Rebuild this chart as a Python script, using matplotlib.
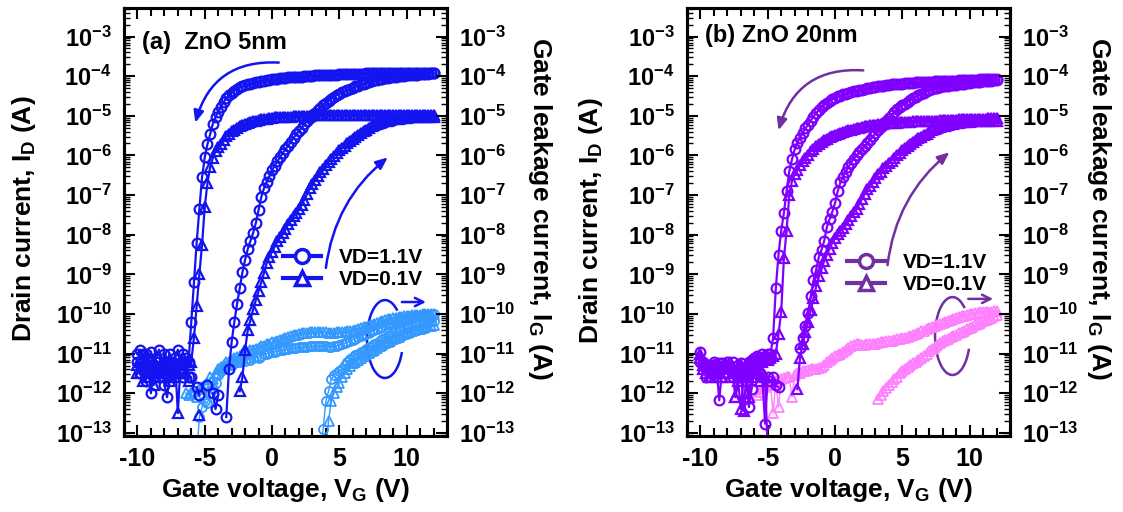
import numpy as np
import matplotlib
matplotlib.use("Agg")
import matplotlib.pyplot as plt
from matplotlib.lines import Line2D
from matplotlib.patches import Arc
from matplotlib.ticker import (LogLocator, FixedLocator, FuncFormatter, MultipleLocator,
                               NullFormatter)

nan = float("nan")

# --- gate-voltage sweep grid: -10 V .. 12 V, 0.2 V step (111 points) ---
VG_START, VG_STOP, VG_STEP = -10.0, 12.0, 0.2
VG = np.round(np.arange(VG_START, VG_STOP + VG_STEP / 2, VG_STEP), 1)

# all currents below are log10(I / A), one value per VG point (nan = not shown)

# ---------------- (a) ZnO 5nm ----------------
# forward sweep, VD = 1.1 V (circles)
A_ID11_FWD = [
    -11.2, -11.5, -11.0, -11.7, -11.3, -12.0, -11.4, -11.2, -11.6, -11.3,
    -11.8, -12.1, -11.5, -11.2, -11.4, -11.3, -11.5, -11.6, -11.2, -11.6,
    -11.6, nan, -11.85, -12.05, nan, nan, -11.8, nan, -12.0, -12.4,
    -12.05, nan, nan, -12.6,
    -11.4, -10.7, -10.2, -9.75, -9.35,
    -8.95, -8.63, -8.36, -8.15, -7.95,
    -7.7, -7.38, -7.05, -6.83, -6.67,
    -6.53, -6.37, -6.26, -6.15, -6.04,
    -5.94, -5.84, -5.75, -5.66, -5.56,
    -5.46, -5.38, -5.30, -5.21, -5.13,
    -5.05, -4.99, -4.93, -4.86, -4.80,
    -4.73, -4.67, -4.62, -4.57, -4.52,
    -4.48, -4.44, -4.41, -4.38, -4.35,
    -4.32, -4.29, -4.26, -4.24, -4.21,
    -4.19, -4.17, -4.14, -4.12, -4.10,
    -4.09, -4.07, -4.06, -4.05, -4.04,
    -4.03, -4.02, -4.01, -4.00, -3.99,
    -3.99, -3.98, -3.97, -3.97, -3.96,
    -3.96, -3.95, -3.95, -3.94, -3.94,
    -3.93, -3.93,
]
# forward sweep, VD = 0.1 V (triangles)
A_ID01_FWD = [
    -11.5, -11.2, -11.7, -11.3, -11.6, -11.4, -11.8, -11.3, -11.5, -11.6,
    -11.2, -11.4, -11.7, -11.3, -11.6, -11.5, -11.4, -11.3, -11.5, -11.7,
    nan, nan, nan, -12.55, nan, nan, nan, nan, nan, nan,
    nan, nan, nan, nan, nan, nan, nan, nan,
    -11.95, -11.6, -10.9, -10.4, -10.15,
    -9.88, -9.65, -9.42, -9.2, -8.97,
    -8.72, -8.56, -8.43, -8.30, -8.17,
    -8.06, -7.96, -7.86, -7.74, -7.63,
    -7.54, -7.45, -7.35, -7.24, -7.12,
    -6.98, -6.83, -6.71, -6.61, -6.52,
    -6.43, -6.34, -6.25, -6.16, -6.08,
    -6.01, -5.94, -5.87, -5.81, -5.75,
    -5.69, -5.63, -5.58, -5.53, -5.48,
    -5.43, -5.39, -5.35, -5.31, -5.27,
    -5.23, -5.20, -5.18, -5.16, -5.14,
    -5.12, -5.10, -5.09, -5.08, -5.07,
    -5.06, -5.05, -5.05, -5.04, -5.04,
    -5.03, -5.03, -5.03, -5.03, -5.02,
    -5.02, -5.02, -5.02,
]
# reverse sweep, VD = 1.1 V (circles)
A_ID11_REV = [
    -11.0, -10.9, -11.3, -11.0, -11.2, -10.95, -11.3, -11.1, -10.9, -11.4,
    -11.0, -11.2, -11.0, -11.3, -11.1, -10.9, -11.2, -11.0, -11.1,
    -11.2, -10.2, -9.2, -8.2, -7.35,
    -6.55, -6.05, -5.72, -5.47, -5.2,
    -5.03, -4.9, -4.78, -4.66, -4.55,
    -4.48, -4.42, -4.37, -4.32, -4.28,
    -4.26, -4.23, -4.21, -4.19, -4.17,
    -4.15, -4.14, -4.13, -4.11, -4.10,
    -4.09, -4.08, -4.07, -4.06, -4.05,
    -4.05, -4.04, -4.03, -4.03, -4.02,
    -4.02, -4.01, -4.01, -4.00, -4.00,
    -3.99, -3.99, -3.98, -3.98, -3.98,
    -3.97, -3.97, -3.97, -3.96, -3.96,
    -3.96, -3.95, -3.95, -3.95, -3.95,
    -3.94, -3.94, -3.94, -3.94, -3.94,
    -3.94, -3.93, -3.93, -3.93, -3.93,
    -3.93, -3.93, -3.93, -3.93, -3.93, -3.93, -3.93, -3.93, -3.93, -3.93, -3.93,
    -3.93, -3.93, -3.93, -3.93, -3.93, -3.93, -3.93, -3.93, -3.93, -3.93, -3.93,
]
# reverse sweep, VD = 0.1 V (triangles)
A_ID01_REV = [
    -11.3, -11.5, -11.2, -11.6, -11.3, -11.5, -11.2, -11.6, -11.4, -11.2,
    -11.5, -11.3, -11.6, -11.4, -11.2, -12.5, -11.3, -11.4, -11.2, -11.3,
    -11.2, -10.6, -9.8, -9.0, -8.25,
    -7.3, -6.7, -6.3, -6.06, -5.9,
    -5.8, -5.7, -5.6, -5.52, -5.45,
    -5.39, -5.35, -5.31, -5.27, -5.24,
    -5.21, -5.19, -5.16, -5.14, -5.12,
    -5.11, -5.09, -5.08, -5.07, -5.06,
    -5.05, -5.04, -5.04, -5.03, -5.03,
    -5.02, -5.02, -5.02, -5.01, -5.01,
    -5.01, -5.00, -5.00, -5.00, -5.00,
] + [-4.99] * 20 + [-4.98] * 26
# gate leakage, forward sweep (light circles / triangles)
A_IG11_FWD = [nan] * 22 + [
    -13.6, -12.6, -12.35, -12.2, -12.25,
    -12.0, -11.9, -11.75, -11.55, -11.45,
    -11.4, -11.35, -11.3, -11.28, -11.25,
    -11.22, -11.2, -11.15, -11.18, -11.12,
    -11.15, -11.1, -11.08, -11.1, -11.05,
    -11.02,
    -11.0, -10.98, -10.96, -10.95, -10.93,
    -10.92, -10.9, -10.89, -10.88, -10.87,
    -10.86, -10.85, -10.84, -10.84, -10.83,
    -10.83, -10.82, -10.82, -10.82, -10.81,
    -10.81, -10.82, -10.82, -10.83, -10.83,
    -10.82, -10.8, -10.78, -10.76, -10.74,
    -10.71, -10.68, -10.65, -10.62, -10.59,
    -10.56, -10.53, -10.5, -10.47, -10.44,
    -10.41, -10.38, -10.35, -10.32, -10.29,
    -10.26, -10.23, -10.2, -10.18, -10.16,
    -10.14, -10.12, -10.1, -10.09, -10.08,
    -10.07, -10.06, -10.05, -10.04, -10.03,
    -10.02, -10.01, -10.0,
]
A_IG01_FWD = [nan] * 18 + [
    -12.0, -12.05, -12.0, -11.95, -12.1,
    -11.9, -11.85, -11.8, -11.75, -11.6,
    -11.65, -11.5, -11.4, -11.35, -11.3,
    -11.22, -11.2, -11.15, -11.1, -11.08,
    -11.05, -11.0, -10.98, -10.95, -10.92,
    -10.9, -10.88, -10.85, -10.82, -10.8,
    -10.77, -10.75, -10.72, -10.7, -10.67,
    -10.65, -10.62, -10.6, -10.58, -10.56,
    -10.54, -10.52, -10.5, -10.49, -10.48,
    -10.47, -10.46, -10.46, -10.45, -10.45,
    -10.45, -10.46, -10.46, -10.47, -10.47,
    -10.47, -10.46, -10.46, -10.45, -10.45,
    -10.44, -10.43, -10.42, -10.4, -10.38,
    -10.36, -10.34, -10.32, -10.3, -10.27,
    -10.25, -10.22, -10.2, -10.18, -10.16,
    -10.14, -10.12, -10.1, -10.09, -10.08,
    -10.07, -10.06, -10.05, -10.04, -10.03,
    -10.03, -10.02, -10.02, -10.01, -10.01,
    -10.0, -10.0, -9.99,
]
# gate leakage, reverse sweep
A_IG11_REV = [nan] * 68 + [
    -13.5, -12.9, -12.2, -11.95, -11.65,
    -11.55, -11.5, -11.45, -11.38, -11.28,
    -11.2, -11.13, -11.08, -11.04, -11.0,
    -10.97, -10.93, -10.88, -10.84, -10.8,
    -10.77, -10.73, -10.68, -10.64, -10.6,
    -10.56, -10.52, -10.49, -10.46, -10.43,
    -10.41, -10.38, -10.36, -10.33, -10.31,
    -10.29, -10.27, -10.25, -10.23, -10.21,
    -10.2, -10.18, -10.17,
]
A_IG01_REV = [nan] * 70 + [
    -13.4, -12.7, -12.2, -12.0, -11.85,
    -11.75, -11.6, -11.5, -11.4, -11.32,
    -11.25, -11.2, -11.15, -11.1, -11.06,
    -11.02, -10.98, -10.94, -10.9, -10.86,
    -10.82, -10.78, -10.74, -10.7, -10.67,
    -10.63, -10.6, -10.57, -10.54, -10.51,
    -10.48, -10.46, -10.43, -10.41, -10.39,
    -10.37, -10.35, -10.33, -10.31, -10.3,
    -10.28,
]

# ---------------- (b) ZnO 20nm ----------------
B_ID11_FWD = [
    -11.2, -11.3, -11.6, -11.4, -11.5, -11.3, -11.4, -12.18, -11.4, -11.3,
    -11.5, -11.4, -11.6, -11.5, -11.4, -11.6, -11.5, -11.7, -12.35, -11.9,
    -11.4, -11.3, -11.5, -11.6, -12.77, -11.6, -11.7, -11.6, -11.8, -11.85,
    nan, nan, nan, nan, nan, nan,
    nan, -10.85, -10.6, -10.3, -9.98,
    -9.55, -9.15, -8.88, -8.56, -8.38,
    -8.15, -7.8, -7.6, -7.42, -7.2,
    -6.9, -6.68, -6.54, -6.41, -6.29,
    -6.18, -6.08, -6.0, -5.92, -5.84,
    -5.77, -5.69, -5.6, -5.52, -5.44,
    -5.37, -5.29, -5.22, -5.14, -5.06,
    -4.98, -4.9, -4.84, -4.79, -4.74,
    -4.69, -4.64, -4.6, -4.56, -4.52,
    -4.48, -4.45, -4.42, -4.38, -4.35,
    -4.33, -4.31, -4.29, -4.27, -4.26,
    -4.25, -4.24, -4.23, -4.22, -4.22,
    -4.21, -4.2, -4.19, -4.18, -4.17,
    -4.16, -4.15, -4.15, -4.14, -4.13,
    -4.12, -4.12, -4.11, -4.1, -4.1,
]
B_ID01_FWD = [
    -11.0, -11.4, -11.3, -11.6, -11.5, -11.3, -11.6, -11.4, -11.6, -11.5,
    -11.3, -11.6, -11.4, -12.1, -11.7, -12.4, -11.6, -11.5, -12.1, -11.6,
    -11.4, -11.3, -11.7, -11.5, -11.6, -13.5, nan, nan, nan, nan,
    nan, nan, nan, nan, nan, nan,
    -11.9, -11.1, -10.75, -10.45, -10.2,
    -9.9, -9.6, -9.3, -9.05, -8.85,
    -8.66, -8.5, -8.35, -8.2, -8.08,
    -7.98, -7.9, -7.82, -7.73, -7.63,
    -7.53, -7.43, -7.34, -7.22, -7.1,
    -6.97, -6.85, -6.76, -6.68, -6.57,
    -6.48, -6.41, -6.33, -6.26, -6.2,
    -6.13, -6.07, -6.0, -5.93, -5.87,
    -5.82, -5.77, -5.72, -5.67, -5.62,
    -5.57, -5.53, -5.49, -5.45, -5.4,
    -5.37, -5.34, -5.31, -5.29, -5.27,
    -5.25, -5.23, -5.21, -5.2, -5.18,
    -5.17, -5.16, -5.16, -5.15, -5.15,
    -5.14, -5.14, -5.14, -5.13, -5.13,
    -5.13, -5.12, -5.12, -5.12, -5.12,
]
B_ID11_REV = [
    -10.95, -11.2, -11.4, -11.3, -11.35, -11.2, -11.3, -11.25, -11.25, -11.3,
    -11.2, -11.4, -11.2, -11.5, -11.3, -11.25, -11.4, -11.5, -11.2, -11.15,
    -11.1, -11.05, -11.1, -11.0, -11.05, -11.0,
    -11.0, -10.6, -9.35, -8.5, -7.9,
    -7.45, -6.9, -6.4, -6.1, -5.85,
    -5.68, -5.55, -5.43, -5.32, -5.22,
    -5.12, -5.02, -4.93, -4.85, -4.78,
    -4.72, -4.67, -4.62, -4.58, -4.54,
    -4.51, -4.49, -4.46, -4.44, -4.42,
    -4.4, -4.38, -4.37, -4.35, -4.34,
    -4.32, -4.31, -4.3, -4.28, -4.27,
    -4.26, -4.25, -4.24, -4.23, -4.22,
    -4.21, -4.21, -4.2, -4.19, -4.19,
    -4.18, -4.18, -4.17, -4.17, -4.16,
    -4.16, -4.16, -4.15, -4.15, -4.14,
    -4.14, -4.13, -4.13, -4.13, -4.12,
    -4.12, -4.12, -4.11, -4.11, -4.11,
    -4.1, -4.1, -4.1, -4.1, -4.09,
    -4.09, -4.09, -4.09, -4.08, -4.08,
    -4.08, -4.08, -4.08, -4.08, -4.08,
]
B_ID01_REV = [
    -11.1, -11.3, -11.5, -11.4, -11.6, -11.3, -11.5, -11.4, -11.6, -11.3,
    -11.5, -11.2, -11.4, -12.1, -11.6, -11.3, -12.45, -11.6, -11.3, -11.2,
    -11.3, -11.2, -11.4, -11.2, -11.1, -11.15, -11.1, -11.05,
    -11.0, -10.5, -9.95, -8.6, -7.9,
    -7.0, -6.65, -6.48, -6.36, -6.25,
    -6.15, -6.07, -5.98, -5.9, -5.83,
    -5.77, -5.71, -5.66, -5.62, -5.58,
    -5.54, -5.51, -5.48, -5.45, -5.43,
    -5.41, -5.39, -5.37, -5.35, -5.33,
    -5.31, -5.3, -5.28, -5.27, -5.25,
    -5.24, -5.23, -5.22, -5.21, -5.2,
    -5.2, -5.19, -5.18, -5.18, -5.17,
    -5.17, -5.16, -5.16, -5.15, -5.15,
    -5.15, -5.14, -5.14, -5.14, -5.14,
    -5.13, -5.13, -5.13, -5.12, -5.12,
    -5.12, -5.11, -5.11, -5.11, -5.1,
    -5.1, -5.1, -5.1, -5.09, -5.09,
    -5.09, -5.08, -5.08, -5.08, -5.08,
    -5.07, -5.07, -5.07, -5.07, -5.06,
    -5.06, -5.06, -5.06,
]
B_IG_FWD = [nan] * 21 + [
    -12.05, -11.98, -11.9, -11.85, -11.8,
    -11.78, -12.5, -11.7, -12.35, -11.65,
    -11.62, -11.6, -11.6, -12.1, -11.55,
    -11.5, -11.48, -11.45, -11.43, -11.42,
    -11.4, -11.39, -11.38, -11.36, -11.35,
    -11.3, -11.22, -11.15, -11.1, -11.06,
    -11.03, -11.0, -10.95, -10.9, -10.86,
    -10.82, -10.79, -10.77, -10.77, -10.78,
    -10.78, -10.77, -10.77, -10.76, -10.75,
    -10.73, -10.72, -10.7, -10.69, -10.68,
    -10.67, -10.66, -10.64, -10.63, -10.61,
    -10.6, -10.58, -10.56, -10.53, -10.5,
    -10.47, -10.44, -10.42, -10.39, -10.36,
    -10.33, -10.31, -10.28, -10.26, -10.23,
    -10.2, -10.18, -10.15, -10.13, -10.1,
    -10.08, -10.06, -10.04, -10.02, -10.0,
    -9.99, -9.98, -9.97, -9.96, -9.95,
    -9.95, -9.94, -9.94, -9.93, -9.93,
]
B_IG_REV = [nan] * 66 + [
    -12.15, -12.05, -11.95, -11.87, -11.79,
    -11.72, -11.65, -11.58, -11.5, -11.44,
    -11.4, -11.35, -11.3, -11.25, -11.2,
    -11.15, -11.1, -11.05, -11.0, -10.94,
    -10.89, -10.84, -10.79, -10.74, -10.69,
    -10.66, -10.62, -10.59, -10.56, -10.52,
    -10.49, -10.46, -10.42, -10.39, -10.36,
    -10.32, -10.29, -10.25, -10.22, -10.19,
    -10.16, -10.13, -10.09, -10.06, -10.02,
]

LEGEND_LABELS = ["VD=1.1V", "VD=0.1V"]
YTICK_EXP = list(range(-13, -2))  # labelled decades 10^-13 .. 10^-3

# colours
A_ID_COL, A_IG_COL, A_NOTE_COL = "#1414f0", "#3399ff", "#1414f0"
B_ID_COL, B_IG_COL, B_NOTE_COL = "#8000ff", "#ff80ff", "#7030a0"

plt.rcParams["font.family"] = ["Liberation Sans", "DejaVu Sans"]
plt.rcParams["font.weight"] = "bold"
plt.rcParams["axes.unicode_minus"] = False
plt.rcParams["mathtext.fontset"] = "custom"
plt.rcParams["mathtext.rm"] = "Liberation Sans:bold"
plt.rcParams["mathtext.bf"] = "Liberation Sans:bold"
plt.rcParams["mathtext.it"] = "Liberation Sans:bold"
plt.rcParams["mathtext.default"] = "bf"

YMIN, YMAX = 10 ** -13.08, 10 ** -2.28

fig = plt.figure(figsize=(11.23, 5.12), dpi=100)


def log_curve(vals):
    vals = np.asarray(vals, dtype=float)
    assert len(vals) == len(VG), len(vals)
    return 10.0 ** vals


def style_axes(ax, ax2):
    fmt = FuncFormatter(lambda v, p: r"$10^{%d}$" % int(round(np.log10(v))))
    for a in (ax, ax2):
        a.set_yscale("log")
        a.set_ylim(YMIN, YMAX)
        a.yaxis.set_major_locator(FixedLocator([10.0 ** e for e in YTICK_EXP]))
        a.yaxis.set_minor_locator(LogLocator(base=10, subs=np.arange(2, 10) * 1.0, numticks=20))
        a.yaxis.set_major_formatter(fmt)
        a.yaxis.set_minor_formatter(NullFormatter())
        a.tick_params(axis="y", which="major", direction="in", length=8, width=1.5,
                      labelsize=17, pad=9)
        a.tick_params(axis="y", which="minor", direction="in", length=4, width=1.0)
        for s in a.spines.values():
            s.set_linewidth(2.2)
    ax.set_xlim(-11, 13)
    ax.xaxis.set_major_locator(MultipleLocator(5))
    ax.xaxis.set_minor_locator(MultipleLocator(1))
    ax.tick_params(axis="x", which="both", direction="in", top=True, width=1.5)
    ax.tick_params(axis="x", which="major", length=8, labelsize=18, pad=8)
    ax.tick_params(axis="x", which="minor", length=6)


def draw_panel(left, tag, tag_xy, id_curves, ig_curves, col_id, col_ig, col_note,
               leg_xy, arrow_top, arrow_bot, loop_xy, loop_arrow, xlab_x, ylab_l, ylab_r):
    ax = fig.add_axes([left, 0.1484, 0.2876, 0.836])
    ax2 = ax.twinx()

    for vals, m in ig_curves:
        ax.plot(VG, log_curve(vals), marker=m, ms=6.5, mfc="none", mec=col_ig, mew=1.3,
                color=col_ig, lw=1.0)
    for vals, m in id_curves:
        ax.plot(VG, log_curve(vals), marker=m, ms=7, mfc="none", mec=col_id, mew=1.6,
                color=col_id, lw=1.6)

    style_axes(ax, ax2)

    ax.text(tag_xy[0], tag_xy[1], tag, transform=ax.transAxes, fontsize=17,
            fontweight="bold", va="center", ha="left")

    handles = [Line2D([], [], color=col_note, lw=3, marker="o", ms=10, mfc="white", mew=2.5),
               Line2D([], [], color=col_note, lw=3, marker="^", ms=10, mfc="white", mew=2.5)]
    ax.legend(handles, LEGEND_LABELS, loc="center left", bbox_to_anchor=leg_xy, frameon=False,
              fontsize=15, handlelength=1.85, handletextpad=0.85, borderpad=0,
              borderaxespad=0, labelspacing=0.15)

    for (start, tip), rad in ((arrow_top, 0.4), (arrow_bot, -0.2)):
        ax.annotate("", xy=tip, xytext=start,
                    arrowprops=dict(arrowstyle="-|>,head_length=0.7,head_width=0.3",
                                    color=col_note, lw=1.8, shrinkA=0, shrinkB=0,
                                    connectionstyle="arc3,rad=%g" % rad))
    ax.add_patch(Arc(loop_xy[:2], loop_xy[2], loop_xy[3], theta1=60, theta2=330,
                     transform=ax.transAxes, color=col_note, lw=1.8))
    ax.annotate("", xy=loop_arrow[1], xytext=loop_arrow[0],
                arrowprops=dict(arrowstyle="->,head_length=0.6,head_width=0.3",
                                color=col_note, lw=1.8, shrinkA=0, shrinkB=0))

    fig.text(xlab_x, 1 - 490 / 512, "Gate voltage, $V_G$ (V)", ha="center", va="center",
             fontsize=19)
    fig.text(ylab_l[0], ylab_l[1], "Drain current, $I_D$ (A)", rotation=90, ha="center",
             va="center", fontsize=19)
    fig.text(ylab_r[0], ylab_r[1], "Gate leakage current, $I_G$ (A)", rotation=270,
             ha="center", va="center", fontsize=19)
    for t in ax.get_yticklabels() + ax2.get_yticklabels():
        t.set_verticalalignment("center_baseline")
    return ax


draw_panel(
    124 / 1123, "(a)  ZnO 5nm", (0.055, 0.92),
    [(A_ID11_FWD, "o"), (A_ID11_REV, "o"), (A_ID01_FWD, "^"), (A_ID01_REV, "^")],
    [(A_IG11_FWD, "o"), (A_IG01_FWD, "^"), (A_IG11_REV, "o"), (A_IG01_REV, "^")],
    A_ID_COL, A_IG_COL, A_NOTE_COL, (0.492, 0.391),
    ((0.5, 2.2e-4), (-5.7, 6.7e-6)), ((4.0, 1.45e-9), (8.6, 8.9e-7)),
    (0.808, 0.2266, 0.1115, 0.182), ((9.65, 2.0e-10), (11.44, 2.0e-10)),
    286 / 1123, (24 / 1123, 1 - 219 / 512), (540 / 1123, 1 - 208 / 512),
)
draw_panel(
    687 / 1123, "(b) ZnO 20nm", (0.056, 0.935),
    [(B_ID11_FWD, "o"), (B_ID11_REV, "o"), (B_ID01_FWD, "^"), (B_ID01_REV, "^")],
    [(B_IG_FWD, "^"), (B_IG_REV, "^")],
    B_ID_COL, B_IG_COL, B_NOTE_COL, (0.495, 0.38),
    ((2.1, 1.4e-4), (-4.2, 4.3e-6)), ((3.9, 1.7e-9), (8.5, 1.2e-6)),
    (0.822, 0.2336, 0.108, 0.182), ((9.9, 2.4e-10), (11.75, 2.4e-10)),
    849 / 1123, (591 / 1123, 1 - 221 / 512), (1099 / 1123, 1 - 208 / 512),
)

fig.savefig("out.png", dpi=100)
